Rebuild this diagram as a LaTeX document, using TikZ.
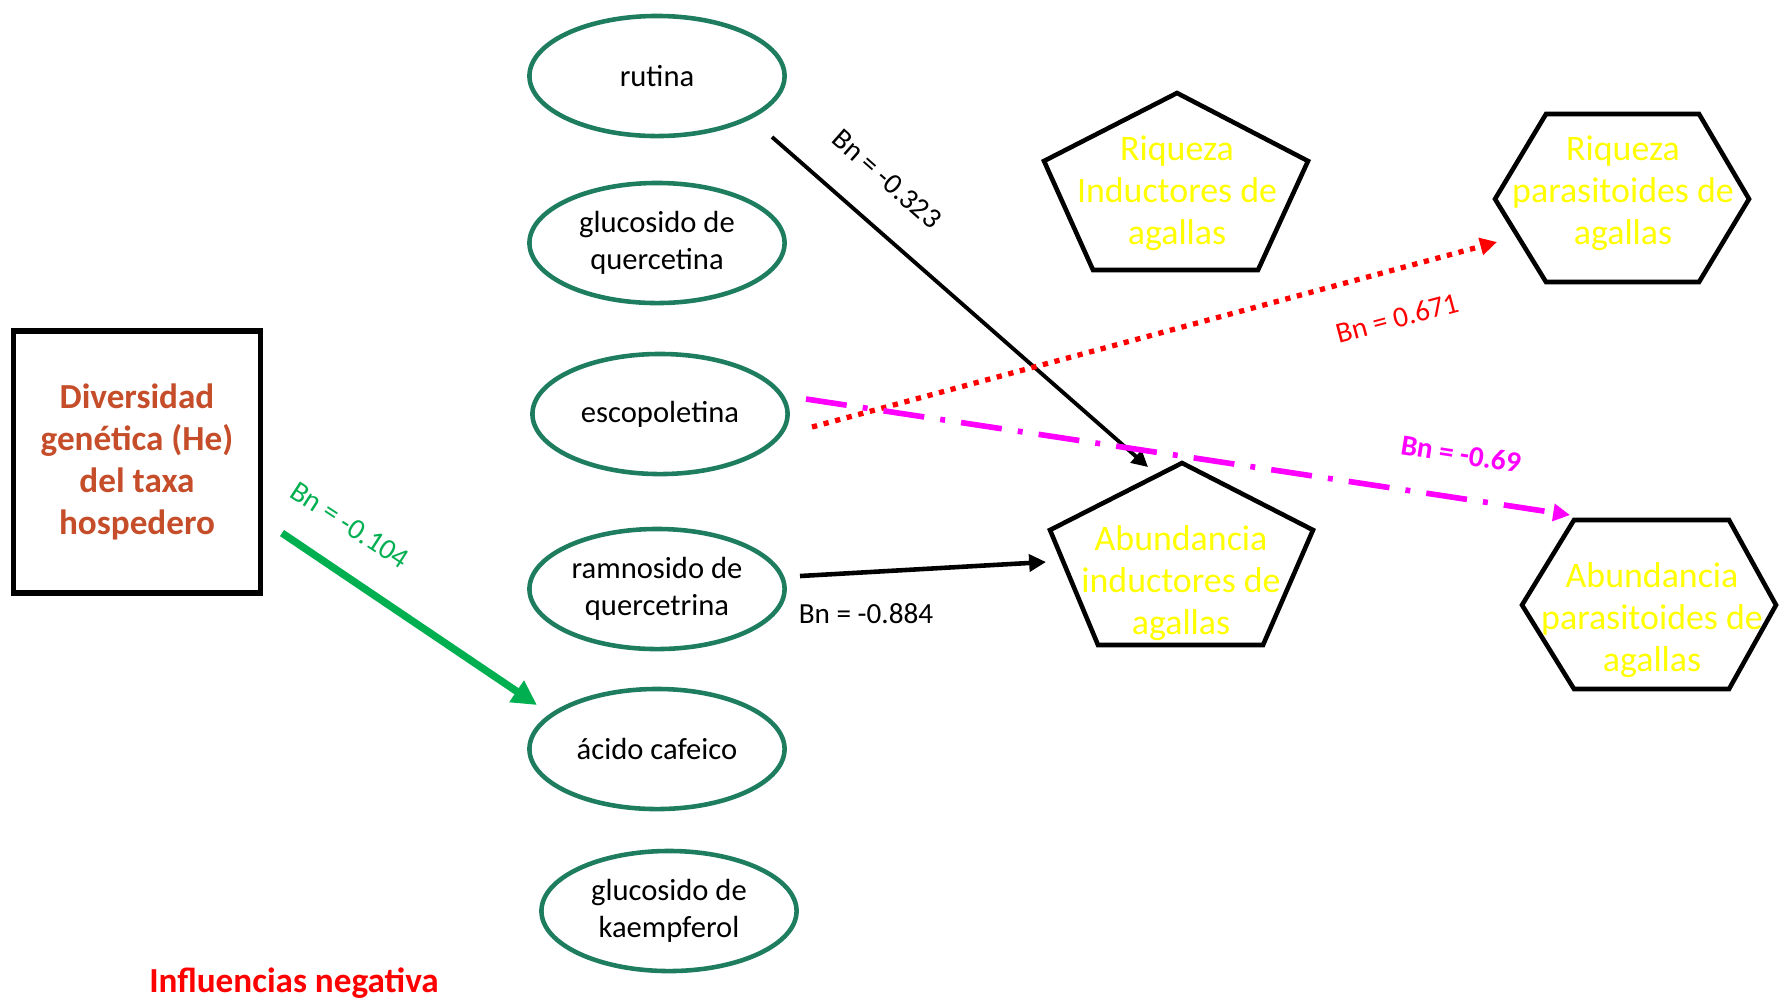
\documentclass[tikz,border=0pt]{standalone}
\usepackage{fontspec}
\setmainfont{Carlito}
\usetikzlibrary{shapes.geometric,arrows.meta}
\definecolor{elipse}{RGB}{30,125,95}
\definecolor{ladrillo}{RGB}{197,77,42}
\definecolor{verde}{RGB}{0,176,80}
\definecolor{amarillo}{RGB}{255,255,0}
\definecolor{rojo}{RGB}{255,0,0}
\definecolor{fucsia}{RGB}{255,0,255}

\begin{document}
\begin{tikzpicture}[x=0.01cm,y=-0.01cm,
  compuesto/.style={ellipse,draw=elipse,line width=1.3pt,minimum width=2.55cm,minimum height=1.2cm,inner sep=0pt,align=center,font=\fontsize{8.7}{10.5}\selectfont},
  respuesta/.style={text=amarillo,align=center,font=\fontsize{10.2}{12}\selectfont},
  figura/.style={draw,line width=1.3pt,line join=miter},
  coef/.style={font=\fontsize{8.3}{10}\selectfont},
  punta/.style={-{Triangle[length=#1,width=#1]}}]
\useasboundingbox (0,0) rectangle (1780,1002);
\node[draw,line width=1.5pt,minimum width=2.47cm,minimum height=2.62cm,align=center,text=ladrillo,font=\fontsize{10}{12}\bfseries] (div) at (137,462) {Diversidad\\genética (He)\\del taxa\\hospedero};

\node[compuesto] (rut) at (657,76) {rutina};
\node[compuesto] (gqu) at (657,243) {glucosido de\\quercetina};
\node[compuesto] (esc) at (660,414) {escopoletina};
\node[compuesto] (rqu) at (657,589) {ramnosido de\\quercetrina};
\node[compuesto] (caf) at (657,749) {ácido cafeico};
\node[compuesto] (gka) at (669,911) {glucosido de\\kaempferol};

\draw[figura] (1177,93) -- (1308,161) -- (1258,270) -- (1093,270) -- (1044,161) -- cycle;
\node[respuesta] (rin) at (1177,193) {Riqueza\\Inductores de\\agallas};
\draw[figura] (1182,463) -- (1313,530) -- (1263,645) -- (1098,645) -- (1050,530) -- cycle;
\node[respuesta] (ain) at (1181,583) {Abundancia\\inductores de\\agallas};
\draw[figura] (1546,114) -- (1699,114) -- (1749,199) -- (1699,282) -- (1546,282) -- (1495,199) -- cycle;
\node[respuesta] (rpa) at (1623,193) {Riqueza\\parasitoides de\\agallas};
\draw[figura] (1574,520) -- (1729,520) -- (1776,605) -- (1729,689) -- (1574,689) -- (1522,605) -- cycle;
\node[respuesta] (apa) at (1652,620) {Abundancia\\parasitoides de\\agallas};

\coordinate (div-s) at (282,533);
\coordinate (caf-e) at (537,705);
\coordinate (rut-s) at (772,137);
\coordinate (ain-n) at (1148,467);
\coordinate (rqu-s) at (800,576);
\coordinate (ain-w) at (1046,562);
\coordinate (esc-r) at (812,427);
\coordinate (rpa-w) at (1497,242);
\coordinate (esc-m) at (806,399);
\coordinate (apa-n) at (1570,515);

\draw[verde,line width=2.1pt,punta=7pt] (div-s) -- (caf-e);
\draw[line width=1.1pt,punta=4.6pt] (rut-s) -- (ain-n);
\draw[line width=1.3pt,punta=4.8pt] (rqu-s) -- (ain-w);
\draw[rojo,line width=1.5pt,dash pattern=on 1.5pt off 1.9pt,punta=4.8pt] (esc-r) -- (rpa-w);
\draw[fucsia,line width=1.6pt,dash pattern=on 11.7pt off 4.6pt on 1.4pt off 4.6pt,punta=4.8pt] (esc-m) -- (apa-n);

\node[coef,text=verde,rotate=-33] (l1) at (350,525) {Bn = -0.104};
\node[coef,rotate=-41.5] (l2) at (887,179) {Bn = -0.323};
\node[coef] (l3) at (866,614) {Bn = -0.884};
\node[coef,text=rojo,rotate=15] (l4) at (1397,318) {Bn = 0.671};
\node[coef,text=fucsia,font=\fontsize{8.3}{10}\bfseries,rotate=-9] (l5) at (1461,454) {Bn = -0.69};

\node[text=rojo,font=\fontsize{10}{12}\bfseries] (neg) at (294,983) {Influencias negativa};
\end{tikzpicture}
\end{document}
